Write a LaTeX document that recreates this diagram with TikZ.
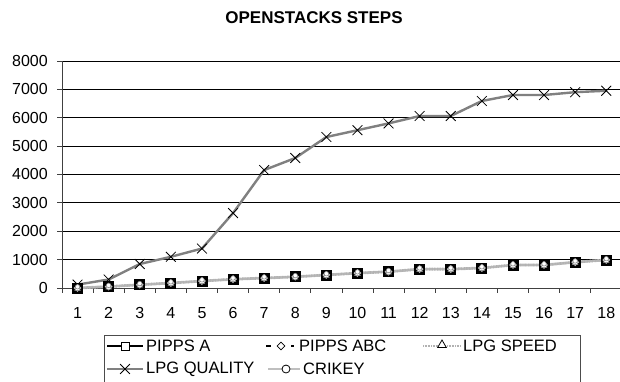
\documentclass[tikz,border=0pt]{standalone}
\usepackage{fontspec}
\setmainfont{Liberation Sans}
\usetikzlibrary{shapes.geometric,shapes.misc}
\begin{document}
\begin{tikzpicture}[x=1pt,y=-1pt,
  lbl/.style={font=\fontsize{16}{18}\selectfont, inner sep=0pt},
  leglbl/.style={font=\fontsize{16.5}{18}\selectfont, inner sep=0pt},
  gridline/.style={line width=0.9pt, black},
  axisline/.style={line width=1pt, black!75},
  tickline/.style={line width=0.8pt, black!75},
  qualline/.style={line width=2.4pt, black!50, line join=round},
  aline/.style={line width=1.2pt, black},
  abcline/.style={line width=1.2pt, black, dash pattern=on 4pt off 5pt},
  speedline/.style={line width=2.8pt, black!30, dash pattern=on 1pt off 0.6pt},
  crikeyline/.style={line width=2.2pt, black!25},
  xmark/.style={cross out, draw=black, line width=0.8pt, minimum size=9pt, inner sep=0pt},
  sqmark/.style={rectangle, draw=black, fill=black, line width=0.8pt, minimum size=10pt, inner sep=0pt},
  sqopen/.style={rectangle, draw=black, fill=white, line width=0.8pt, minimum size=8pt, inner sep=0pt},
  dmmark/.style={diamond, fill=black!25, minimum size=8pt, inner sep=0pt},
  dmopen/.style={diamond, draw=black, fill=white, line width=0.8pt, minimum size=8pt, inner sep=0pt},
  trmark/.style={regular polygon, regular polygon sides=3, draw=black!50, fill=white, line width=0.5pt, minimum size=6.5pt, inner sep=0pt},
  tropen/.style={regular polygon, regular polygon sides=3, draw=black, fill=white, line width=0.8pt, minimum size=10pt, inner sep=0pt},
  cimark/.style={circle, draw=black!50, fill=white, line width=0.5pt, minimum size=4.5pt, inner sep=0pt},
  ciopen/.style={circle, draw=black, fill=white, line width=0.8pt, minimum size=8pt, inner sep=0pt}]
\useasboundingbox (0,0) rectangle (620,381);
\fill[white] (0,0) rectangle (620,381);

% title
\node[font=\bfseries\fontsize{17}{20}\selectfont, inner sep=0pt] (title) at (314,18) {OPENSTACKS STEPS};

% grid and y labels
\foreach \k in {1,...,8} \draw[gridline] (62,{288-28.38*\k}) -- (620,{288-28.38*\k});
\foreach \k in {0,...,8} {
  \pgfmathtruncatemacro{\val}{\k*1000}
  \draw[tickline] (57,{288-28.38*\k}) -- (62,{288-28.38*\k});
  \node[lbl, anchor=east] (y\k) at (48,{288-28.38*\k}) {\val};
}
% axes
\draw[axisline] (62,61) -- (62,288) -- (621,288);
\foreach \i in {0,...,17} \draw[tickline] ({62+31.1*\i},288) -- ({62+31.1*\i},293);
\foreach \i in {1,...,18} \node[lbl] (x\i) at ({62+31.1*(\i-0.5)},313) {\i};

% data
\begin{scope}[shift={(62,288)}, x=31.1pt, y=0.02838pt]
  \foreach \v [count=\i] in {0,50,115,175,245,310,350,395,460,525,575,665,665,705,810,810,910,990}
    \coordinate (L\i) at (\i-0.5,\v);
  \foreach \v [count=\i] in {120,300,845,1100,1390,2640,4155,4580,5320,5560,5800,6060,6060,6590,6800,6800,6900,6950}
    \coordinate (Q\i) at (\i-0.5,\v);
\end{scope}
\draw[aline] (L1) \foreach \i in {2,...,18} { -- (L\i)};
\draw[abcline] (L1) \foreach \i in {2,...,18} { -- (L\i)};
\draw[crikeyline] (L1) \foreach \i in {2,...,18} { -- (L\i)};
\draw[speedline] (L1) \foreach \i in {2,...,18} { -- (L\i)};
\draw[qualline] (Q1) \foreach \i in {2,...,18} { -- (Q\i)};
\foreach \i in {1,...,18} {
  \node[xmark] (qm\i) at (Q\i) {};
  \node[sqmark] (am\i) at (L\i) {};
  \node[dmmark] (bm\i) at (L\i) {};
  \node[trmark] (sm\i) at ([yshift=-0.8pt]L\i) {};
  \node[cimark] (cm\i) at ([yshift=1.2pt]L\i) {};
}

% legend
\draw[line width=0.9pt, black!70] (104,335) rectangle (580,383);
\coordinate (la1) at (107,346); \coordinate (la2) at (143,346);
\draw[aline] (la1) -- (la2);
\node[sqopen] (lam) at (125,346) {};
\node[leglbl, anchor=west] (lat) at (146,346) {PIPPS A};

\coordinate (lb1) at (266,346); \coordinate (lb2) at (296,346);
\draw[abcline, dash pattern=on 5pt off 20pt on 3pt off 5pt] (lb1) -- (lb2);
\node[dmopen] (lbm) at (281,346) {};
\node[leglbl, anchor=west] (lbt) at (299,346) {PIPPS ABC};

\coordinate (lc1) at (423,346); \coordinate (lc2) at (460,346);
\draw[speedline] (lc1) -- (lc2);
\node[tropen] (lcm) at (442,345) {};
\node[leglbl, anchor=west] (lct) at (463,346) {LPG SPEED};

\coordinate (ld1) at (107,369); \coordinate (ld2) at (143,369);
\draw[qualline] (ld1) -- (ld2);
\node[xmark] (ldm) at (125,369) {};
\node[leglbl, anchor=west] (ldt) at (146,369) {LPG QUALITY};

\coordinate (le1) at (268,369); \coordinate (le2) at (300,369);
\draw[crikeyline] (le1) -- (le2);
\node[ciopen] (lem) at (286,369) {};
\node[leglbl, anchor=west] (let) at (303,369) {CRIKEY};
\end{tikzpicture}
\end{document}
